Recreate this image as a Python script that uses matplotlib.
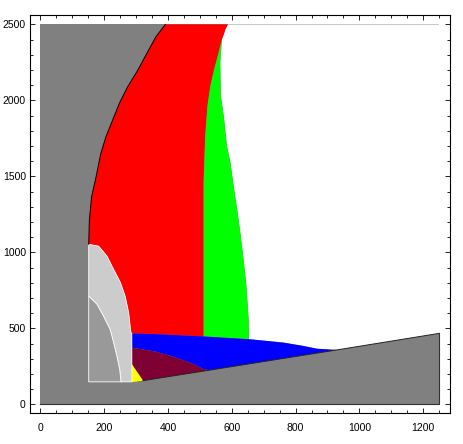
import matplotlib
matplotlib.use("Agg")
import matplotlib.pyplot as plt
from matplotlib.patches import Polygon
from matplotlib.ticker import MultipleLocator

# region boundaries, as (x, y) lists
box_x = [0, 1250]
box_y = [0, 2500]
floor_y = 148

# grey / red boundary, bottom to top
gray_red_x = [152, 154, 161, 175, 190, 206, 227, 248, 274, 306, 337, 363, 392]
gray_red_y = [1053, 1212, 1366, 1497, 1652, 1761, 1871, 1981, 2090, 2200,
              2321, 2420, 2500]

# sloped floor line, left to right
floor_x = [287, 322, 530, 935, 1250]
floor_line_y = [146, 156, 225, 360, 467]

# light grey / red boundary, top to bottom
lg_red_x = [152, 183, 209, 230, 251, 266, 277, 284, 287]
lg_red_y = [1053, 1041, 976, 888, 803, 713, 605, 474, 467]

# medium grey / light grey boundary, top to bottom
mg_x = [152, 178, 198, 219, 230, 240, 249, 253]
mg_y = [712, 658, 581, 493, 406, 318, 230, 148]

# top of the blue band, left to right
blue_top_x = [287, 374, 511, 658, 763, 825, 867, 935]
blue_top_y = [467, 461, 447, 428, 406, 384, 366, 357]

# blue / maroon boundary, left to right
maroon_top_x = [287, 360, 410, 470, 512, 530]
maroon_top_y = [373, 348, 318, 274, 232, 225]

# red / white edge near the top, top to bottom
red_white_x = [588, 580, 575, 569]
red_white_y = [2500, 2467, 2434, 2401]

# red / green boundary, top to bottom
rg_x = [569, 559, 545, 533, 524, 517, 512, 512]
rg_y = [2401, 2314, 2204, 2094, 1963, 1765, 1458, 447]

# green / white boundary, top to bottom
gw_x = [569, 564, 566, 575, 585, 596, 606, 617, 627, 637, 646, 653, 654]
gw_y = [2401, 2248, 2028, 1897, 1699, 1590, 1436, 1283, 1129, 954, 778, 559, 429]

# yellow sliver
yellow_x = [287, 287, 322]
yellow_y = [265, 146, 156]


def pts(xs, ys):
    return list(zip(xs, ys))


def add(ax, verts, color, **kw):
    ax.add_patch(Polygon(verts, closed=True, facecolor=color,
                         edgecolor=kw.pop("edgecolor", "none"), **kw))


fig = plt.figure(figsize=(4.63, 4.44), dpi=100)
ax = fig.add_axes([0.0648, 0.0698, 0.9072, 0.8964])

# dark grey background box
add(ax, pts([box_x[0], box_x[1], box_x[1], box_x[0]],
            [box_y[0], box_y[0], box_y[1], box_y[1]]), "#808080")

# white area, upper right
white = [(red_white_x[0], box_y[1]), (box_x[1], box_y[1]),
         (box_x[1], floor_line_y[-1])]
white += pts(floor_x[::-1][:2], floor_line_y[::-1][:2])
white += pts(blue_top_x[::-1][:5], blue_top_y[::-1][:5])
white += pts(gw_x[::-1], gw_y[::-1])
white += pts(red_white_x[::-1], red_white_y[::-1])
add(ax, white, "white")

# red
red = [(gray_red_x[-1], box_y[1])]
red += pts(red_white_x, red_white_y)
red += pts(rg_x, rg_y)
red += pts(blue_top_x[:3][::-1], blue_top_y[:3][::-1])
red += pts(lg_red_x[::-1], lg_red_y[::-1])
red += pts(gray_red_x, gray_red_y)
add(ax, red, "#ff0000")

# green
green = pts(rg_x, rg_y) + pts(gw_x[::-1], gw_y[::-1])
add(ax, green, "#00ff00")

# blue
blue = pts(blue_top_x, blue_top_y)
blue += pts(floor_x[1:4][::-1], floor_line_y[1:4][::-1])[:2]
blue += pts(maroon_top_x[::-1], maroon_top_y[::-1])
add(ax, blue, "#0000ff")

# maroon
maroon = pts(maroon_top_x, maroon_top_y)
maroon += [(floor_x[1], floor_line_y[1])]
maroon += [(yellow_x[0], yellow_y[0])]
add(ax, maroon, "#7f0033")

# yellow
add(ax, pts(yellow_x, yellow_y), "#ffff00")

# light grey
light = pts(lg_red_x, lg_red_y)
light += [(lg_red_x[-1], floor_y), (mg_x[-1], floor_y)]
light += pts(mg_x[::-1], mg_y[::-1])
add(ax, light, "#cccccc", edgecolor="white", linewidth=0.6)

# medium grey
medium = pts(mg_x, mg_y) + [(mg_x[0], floor_y)]
add(ax, medium, "#999999", edgecolor="white", linewidth=0.6)

# boundary lines
ax.plot(gray_red_x, gray_red_y, color="black", lw=0.7)
ax.plot(floor_x[1:], floor_line_y[1:], color="#222222", lw=0.7)
ax.plot([box_x[0], box_x[1], box_x[1]],
        [box_y[0], box_y[0], floor_line_y[-1]], color="#333333", lw=0.8)

ax.set_xlim(-32, 1284)
ax.set_ylim(-57, 2562)
ax.xaxis.set_major_locator(MultipleLocator(200))
ax.xaxis.set_minor_locator(MultipleLocator(50))
ax.yaxis.set_major_locator(MultipleLocator(500))
ax.yaxis.set_minor_locator(MultipleLocator(100))
ax.tick_params(which="both", direction="in", top=True, right=True,
               width=0.6, labelsize=7.5)
ax.tick_params(which="major", length=3.5)
ax.tick_params(which="minor", length=2)
ax.tick_params(axis="x", pad=7)
ax.tick_params(axis="y", pad=3)
for lab in ax.get_xticklabels() + ax.get_yticklabels():
    lab.set_fontfamily("Liberation Sans")
for sp in ax.spines.values():
    sp.set_linewidth(0.8)

fig.savefig("out.png", dpi=100)
